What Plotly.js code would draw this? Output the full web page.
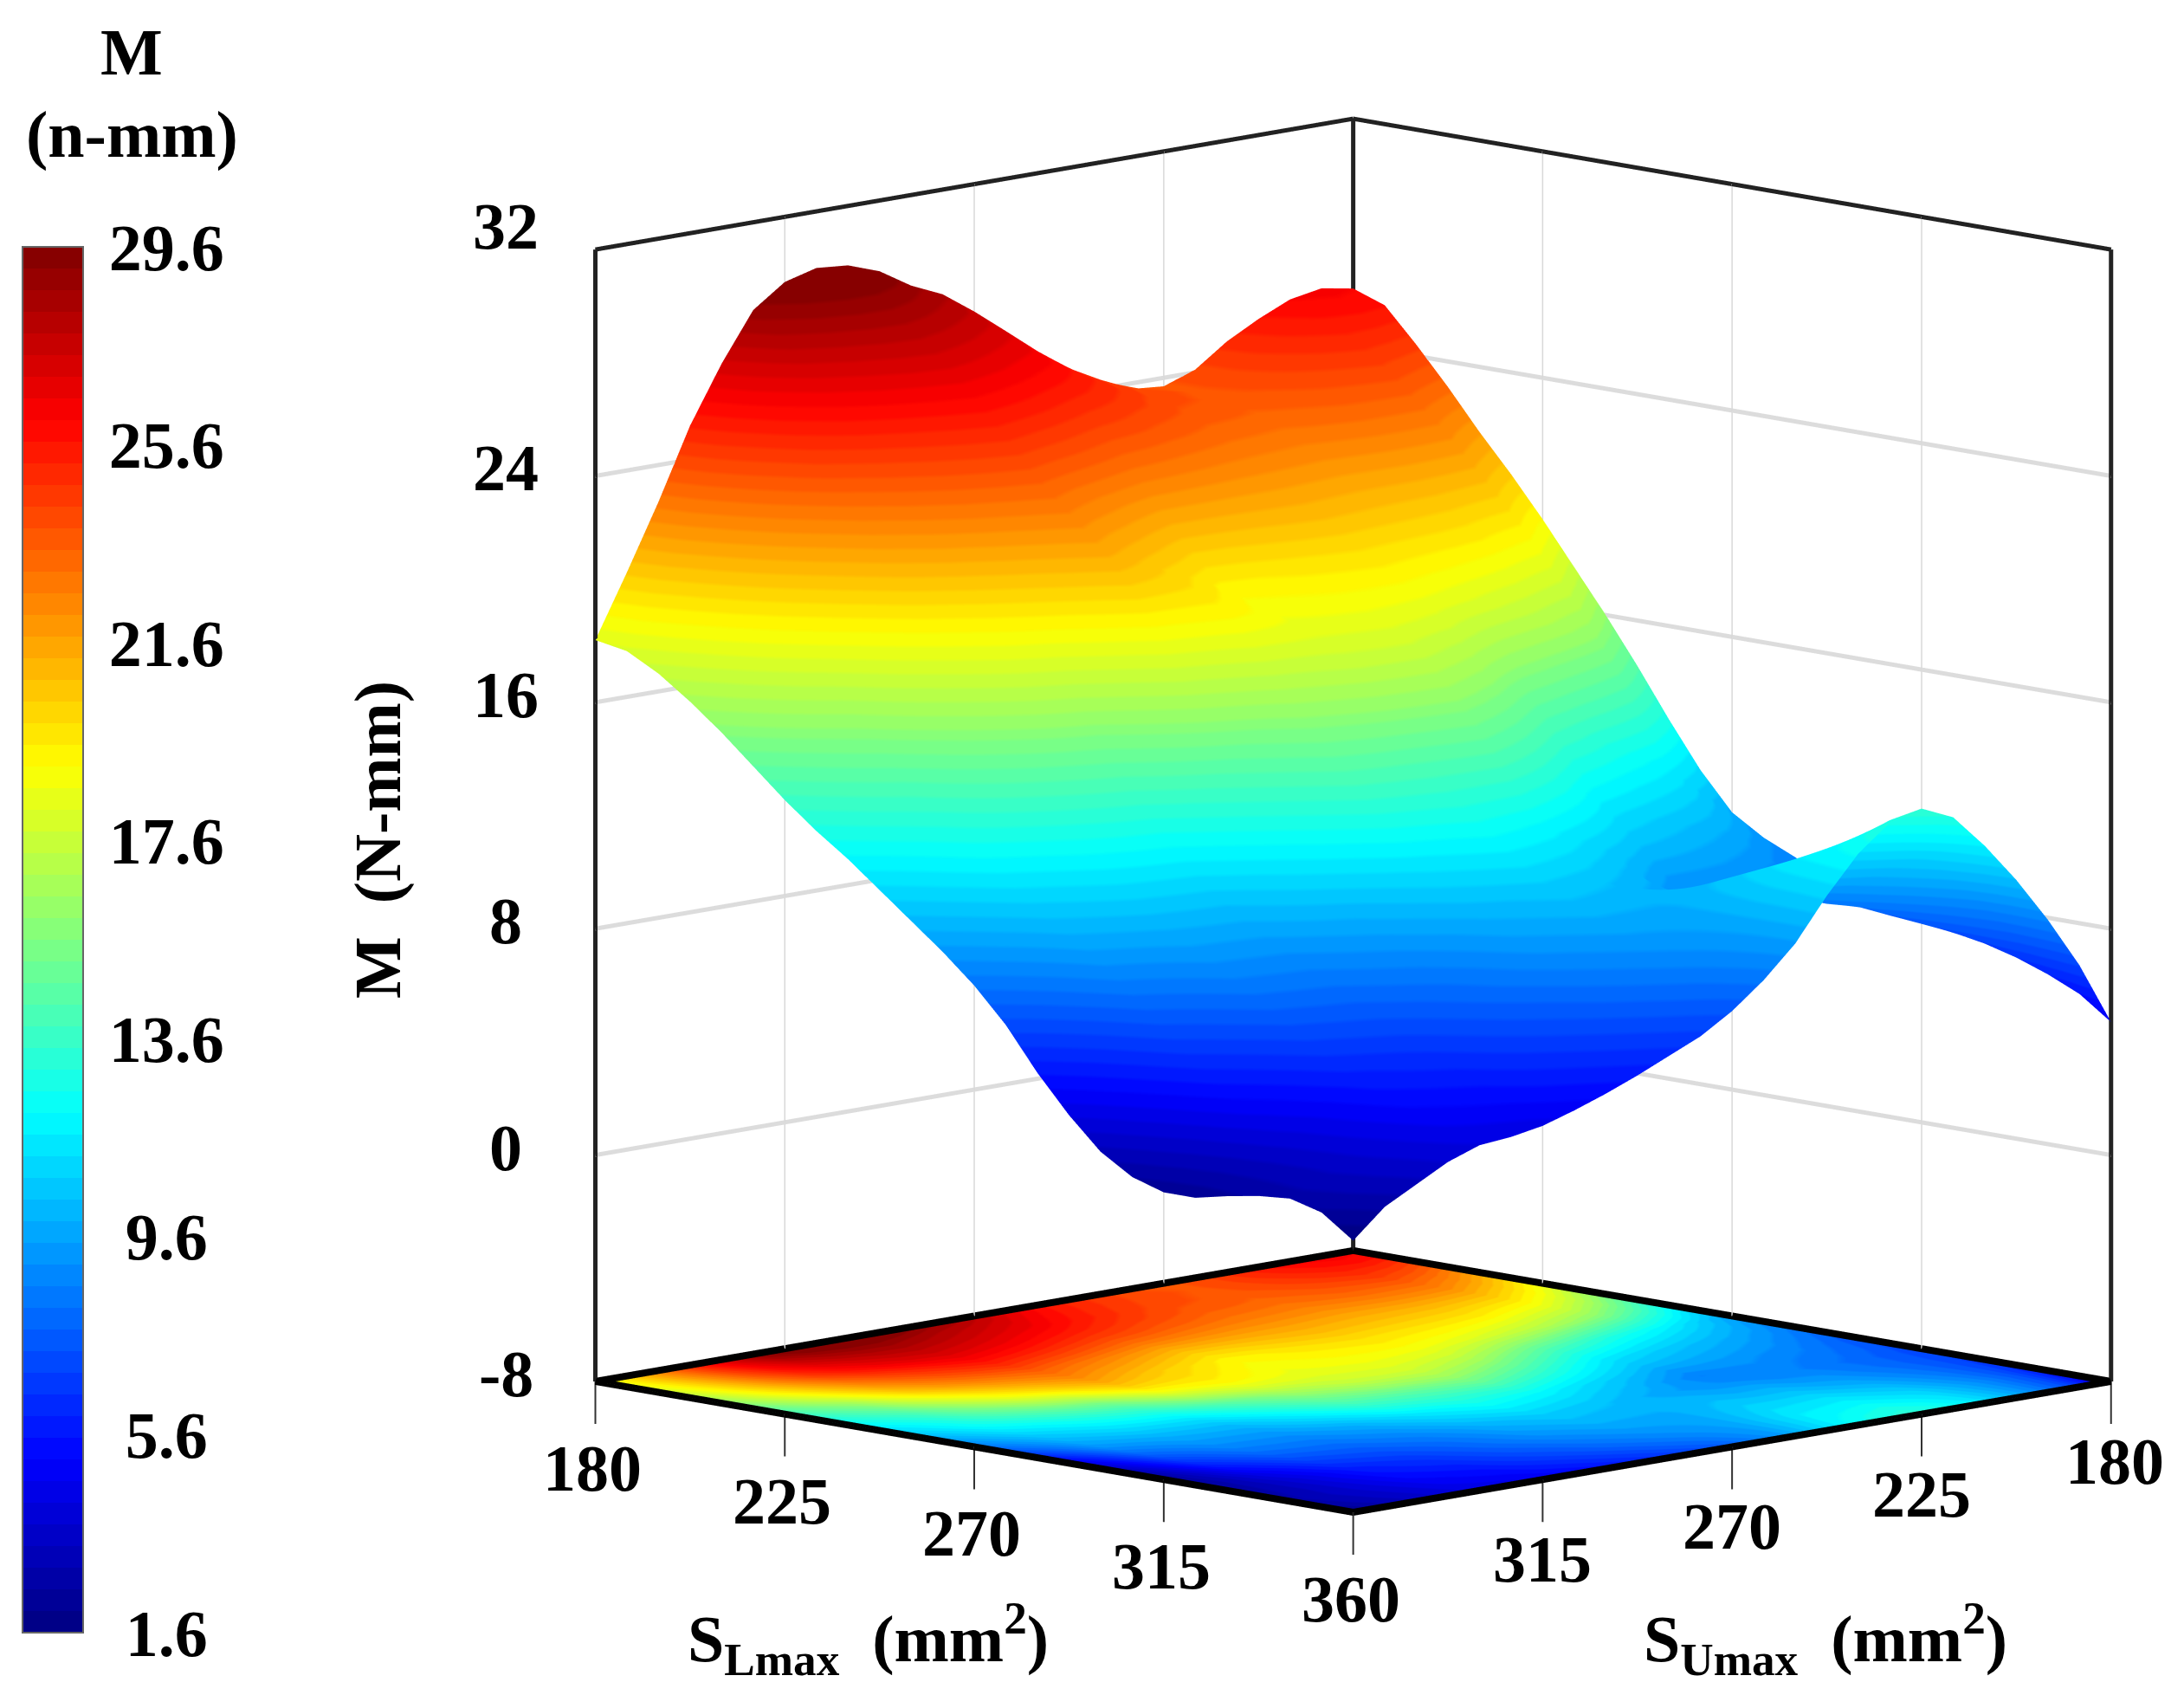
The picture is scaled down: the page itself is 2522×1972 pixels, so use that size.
<!DOCTYPE html>
<html><head><meta charset="utf-8"><script src="https://cdn.plot.ly/plotly-3.0.1.min.js"></script>
<style>html,body{margin:0;padding:0;background:#fff}#g{width:2522px;height:1972px}</style></head>
<body><div id="g"></div><script>
const SL_VALUES=[180,187.5,195,202.5,210,217.5,225,232.5,240,247.5,255,262.5,270,277.5,285,292.5,300,307.5,315,322.5,330,337.5,345,352.5,360];
const SU_VALUES=[180,187.5,195,202.5,210,217.5,225,232.5,240,247.5,255,262.5,270,277.5,285,292.5,300,307.5,315,322.5,330,337.5,345,352.5,360];
// rows = SU (180..360), columns = SL (180..360)
const M_ROWS=[
[26.0,25.6,24.4,23.1,21.7,20.4,19.0,17.5,16.0,14.4,12.7,11.1,9.8,9.1,8.6,8.0,7.5,7.25,7.05,6.9,6.7,6.4,6.0,5.5,4.7],
[26.2,25.8,24.8,23.7,22.5,21.3,20.0,18.7,17.3,15.8,14.1,12.3,10.7,9.9,9.2,8.6,8.1,7.8,7.5,7.4,7.4,7.4,7.4,7.2,6.9],
[26.0,25.6,25.0,24.2,23.2,22.2,21.0,19.8,18.5,17.1,15.5,13.5,11.7,10.6,9.8,9.2,8.7,8.3,8.0,8.0,8.2,8.5,8.8,8.8,8.7],
[25.5,25.2,24.7,24.0,23.2,22.3,21.2,20.1,19.0,17.7,16.3,14.3,12.4,11.2,10.2,9.6,9.0,8.6,8.3,8.5,8.9,9.4,9.9,10.2,10.3],
[24.9,24.7,24.3,23.8,23.2,22.3,21.3,20.4,19.5,18.3,17.0,15.0,13.0,11.7,10.6,9.9,9.3,8.9,8.7,9.1,9.6,10.3,11.0,11.4,11.7],
[24.1,24.1,23.9,23.5,23.0,22.2,21.3,20.5,19.7,18.7,17.5,15.7,13.8,12.3,11.0,10.2,9.4,8.8,8.7,9.3,10.0,10.8,11.5,12.2,12.9],
[23.7,23.7,23.6,23.3,22.8,22.1,21.3,20.6,19.8,19.0,18.0,16.3,14.5,12.9,11.5,10.5,9.4,8.6,9.0,9.8,10.5,11.3,12.0,12.8,13.4],
[23.8,23.9,23.8,23.5,22.9,22.2,21.4,20.7,19.9,19.2,18.4,17.1,15.5,14.0,12.5,11.3,10.2,9.3,9.2,9.8,10.5,11.2,11.8,12.4,13.1],
[24.3,24.2,24.0,23.6,23.0,22.3,21.5,20.8,20.0,19.4,18.7,17.8,16.5,15.0,13.5,12.1,10.8,10.1,9.6,10.1,10.6,11.1,11.6,11.9,12.2],
[24.8,24.7,24.4,24.0,23.3,22.4,21.5,20.7,19.9,19.3,18.8,18.1,17.1,15.8,14.3,12.8,11.4,10.6,10.0,10.1,10.2,10.4,10.6,10.7,10.9],
[25.5,25.3,25.0,24.4,23.6,22.6,21.5,20.5,19.7,19.2,18.8,18.3,17.6,16.4,15.0,13.4,12.0,11.1,10.4,10.1,9.8,9.7,9.6,9.5,9.4],
[26.5,26.1,25.6,24.9,24.0,22.8,21.5,20.3,19.4,19.0,18.7,18.2,17.6,16.3,14.8,13.4,12.3,11.4,10.6,10.2,9.8,9.5,9.2,8.8,8.3],
[27.5,27.0,26.3,25.4,24.3,23.0,21.5,20.2,19.2,18.8,18.5,18.1,17.5,16.1,14.5,13.4,12.5,11.6,10.8,10.3,9.8,9.3,8.8,8.1,7.4],
[28.3,27.6,26.8,25.9,24.8,23.5,22.0,20.8,19.8,19.3,18.9,18.1,17.0,15.7,14.3,13.1,12.0,11.2,10.4,9.9,9.4,8.9,8.3,7.6,6.7],
[28.8,28.1,27.3,26.4,25.3,24.0,22.5,21.4,20.3,19.8,19.2,18.0,16.5,15.2,14.0,12.7,11.5,10.7,10.0,9.5,9.0,8.4,7.8,7.0,6.2],
[29.5,28.6,27.7,26.8,25.7,24.4,23.0,21.9,20.9,20.0,18.9,17.3,15.5,14.2,13.0,11.8,10.8,10.0,9.3,8.8,8.4,7.8,7.2,6.5,5.7],
[29.9,29.0,28.0,27.1,26.0,24.8,23.5,22.5,21.5,20.2,18.5,16.5,14.5,13.2,12.0,11.0,10.0,9.3,8.7,8.2,7.8,7.3,6.7,6.0,5.25],
[30.0,29.0,27.9,26.9,25.6,24.4,23.1,21.9,20.6,19.0,17.0,15.2,13.5,12.2,11.1,10.3,9.5,8.9,8.3,7.7,7.2,6.7,6.2,5.6,4.85],
[29.7,28.7,27.5,26.4,25.0,23.8,22.5,21.1,19.5,17.5,15.5,13.9,12.5,11.3,10.3,9.6,9.0,8.4,7.8,7.2,6.6,6.1,5.6,5.1,4.5],
[28.9,28.0,26.8,25.6,24.2,22.9,21.6,20.0,18.4,16.6,14.8,13.4,12.2,11.1,10.2,9.5,8.9,8.3,7.6,6.9,6.2,5.8,5.3,4.9,4.3],
[27.2,26.5,25.5,24.4,23.0,21.7,20.3,18.6,17.0,15.4,14.0,12.8,11.8,10.9,10.0,9.4,8.8,8.1,7.3,6.5,5.8,5.4,5.0,4.6,4.2],
[25.2,24.6,23.7,22.6,21.3,20.0,18.5,17.0,15.5,14.3,13.2,12.1,11.2,10.4,9.6,8.8,8.0,7.2,6.3,5.5,4.9,4.6,4.3,4.0,3.8],
[22.7,22.3,21.5,20.6,19.5,18.1,16.5,15.2,14.0,13.1,12.4,11.5,10.6,9.9,9.2,8.2,7.2,6.2,5.3,4.5,4.0,3.8,3.7,3.5,3.2],
[20.4,20.1,19.4,18.6,17.6,16.4,15.1,14.0,13.0,12.1,11.3,10.4,9.5,8.5,7.4,6.2,5.2,4.3,3.6,3.2,3.1,3.1,3.2,3.0,2.6],
[18.2,18.0,17.4,16.6,15.7,14.7,13.7,12.8,12.0,11.1,10.2,9.3,8.3,7.1,5.6,4.3,3.2,2.5,2.15,2.15,2.4,2.6,2.7,2.4,1.6]];
const SL_TICKS=[180,225,270,315,360];
const SU_TICKS=[180,225,270,315];
const Z_TICKS=[-8,0,8,16,24,32];
const BAR_TICKS=[1.6,5.6,9.6,13.6,17.6,21.6,25.6,29.6];
const BAND_COUNT=64;
const FONT='"Liberation Serif","Times New Roman",serif';
const C={eye:3,shiftR:0.3059,shiftU:0.0219,scale:1.2552*180.2/180};

function jet(t){const f=v=>Math.round(255*Math.max(0,Math.min(1,v)));
 return 'rgb('+f(1.5-Math.abs(4*t-3))+','+f(1.5-Math.abs(4*t-2))+','+f(1.5-Math.abs(4*t-1))+')';}
const cs=[];for(let i=0;i<BAND_COUNT;i++){const c=jet((i+.5)/BAND_COUNT);cs.push([i/BAND_COUNT,c],[(i+1)/BAND_COUNT,c]);}
const Zsl=SL_VALUES.map((_,i)=>SU_VALUES.map((_,j)=>M_ROWS[j][i]));
const floorZ=Zsl.map(r=>r.map(()=>-8));
const flat={ambient:1,diffuse:0,specular:0,roughness:1,fresnel:0};
const common={colorscale:cs,cmin:1.6,cmax:29.6,lighting:flat,hoverinfo:'skip'};
const tf={family:FONT,size:76,color:'#000',weight:700};
const surf=Object.assign({type:'surface',x:SU_VALUES,y:SL_VALUES,z:Zsl,showscale:true,
 colorbar:{x:26/2522,xanchor:'left',xpad:0,ypad:0,y:1-285/1972,yanchor:'top',len:1600,lenmode:'pixels',thickness:70,thicknessmode:'pixels',
  tickmode:'array',tickvals:BAR_TICKS,ticktext:BAR_TICKS.map(v=>(v<10?'\u00A0':'')+v.toFixed(1)),ticks:'outside',ticklen:14,tickcolor:'rgba(0,0,0,0)',tickfont:tf,outlinecolor:'#666',outlinewidth:2,borderwidth:0}},common);
// the floor map stops just inside its two rear edges, so their thick lines are not covered
const inset=v=>v===180?182.4:v;
const floor=Object.assign({type:'surface',x:SU_VALUES.map(inset),y:SL_VALUES.map(inset),z:floorZ,surfacecolor:Zsl,showscale:false},common);
function lines(segs,color,width){const x=[],y=[],z=[];segs.forEach(s=>{x.push(s[0],s[3],null);y.push(s[1],s[4],null);z.push(s[2],s[5],null);});
 return {type:'scatter3d',mode:'lines',x,y,z,line:{color,width},hoverinfo:'skip',showlegend:false,connectgaps:false};}
const lo=180,hi=360,zb=-8,zt=32,stub=-9.5;
const boxTop=lines([[hi,lo,zb,hi,lo,zt],[lo,lo,zb,lo,lo,zt],[lo,hi,zb,lo,hi,zt],[hi,lo,zt,lo,lo,zt],[lo,lo,zt,lo,hi,zt]],'#222',10);
const boxFloor=lines([[hi,lo,zb,lo,lo,zb],[lo,lo,zb,lo,hi,zb],[lo,hi,zb,hi,hi,zb],[hi,hi,zb,hi,lo,zb]],'#000',16);
const gridZ=[];[0,8,16,24].forEach(v=>{gridZ.push([hi,lo,v,lo,lo,v],[lo,lo,v,lo,hi,v]);});
const gridV=[];[225,270,315].forEach(v=>{gridV.push([v,lo,zb,v,lo,zt],[lo,v,zb,lo,v,zt]);});
const stubs=[];SL_TICKS.forEach(v=>stubs.push([hi,v,zb,hi,v,stub]));SU_TICKS.forEach(v=>stubs.push([v,hi,zb,v,hi,stub]));
const data=[surf,floor,lines(gridZ,'#dcdcdc',10),lines(gridV,'#d8d8d8',3),lines(stubs,'#333',4),boxTop,boxFloor];
const ann3=[];
SL_TICKS.forEach(v=>ann3.push({x:hi,y:v,z:zb,text:String(v),showarrow:false,font:tf,yshift:-100,xshift:-3}));
SU_TICKS.forEach(v=>ann3.push({x:v,y:hi,z:zb,text:String(v),showarrow:false,font:tf,yshift:-92,xshift:v===180?4:0}));
Z_TICKS.forEach(v=>ann3.push({x:hi,y:lo,z:v,text:String(v),showarrow:false,font:tf,xanchor:'center',xshift:-103,yshift:v===32?27:9}));
const hidden={showgrid:false,zeroline:false,showline:false,showticklabels:false,ticks:'',showbackground:false,showspikes:false,title:{text:''}};
const r=C.eye,e=9.94*Math.PI/180;
const right=[-Math.SQRT1_2,Math.SQRT1_2,0],up=[-Math.sin(e)*Math.SQRT1_2,-Math.sin(e)*Math.SQRT1_2,Math.cos(e)];
const cen=[0,1,2].map(i=>-C.shiftR*right[i]-C.shiftU*up[i]);
const dir=[Math.cos(e)*Math.SQRT1_2,Math.cos(e)*Math.SQRT1_2,Math.sin(e)];
const pa=(x,y,text,o)=>Object.assign({xref:'paper',yref:'paper',x:x/2522,y:1-y/1972,text,showarrow:false,font:tf,xanchor:'center',yanchor:'middle'},o||{});
const layout={width:2522,height:1972,margin:{l:0,r:0,t:0,b:0},paper_bgcolor:'#fff',showlegend:false,
 scene:{domain:{x:[0,1],y:[0,1]},aspectmode:'manual',aspectratio:{x:C.scale,y:C.scale,z:1.2552*1.072*41.6/40},
  xaxis:Object.assign({range:[179.9,360.1]},hidden),yaxis:Object.assign({range:[179.9,360.1]},hidden),zaxis:Object.assign({range:[-9.5,32.1]},hidden),
  camera:{projection:{type:'orthographic'},up:{x:0,y:0,z:1},
   center:{x:cen[0],y:cen[1],z:cen[2]},eye:{x:cen[0]+r*dir[0],y:cen[1]+r*dir[1],z:cen[2]+r*dir[2]}},
  annotations:ann3},
 annotations:[
  pa(152,60,'M'),pa(152,155,'(n-mm)'),
  pa(437,970,'M\u00A0 (N-mm)',{textangle:-90}),
  pa(1003,1892,'S<sub>Lmax</sub>\u00A0 (mm<sup>2</sup>)'),
  pa(2108,1892,'S<sub>Umax</sub>\u00A0 (mm<sup>2</sup>)')]};
Plotly.newPlot('g',data,layout,{displayModeBar:false});
</script></body></html>
